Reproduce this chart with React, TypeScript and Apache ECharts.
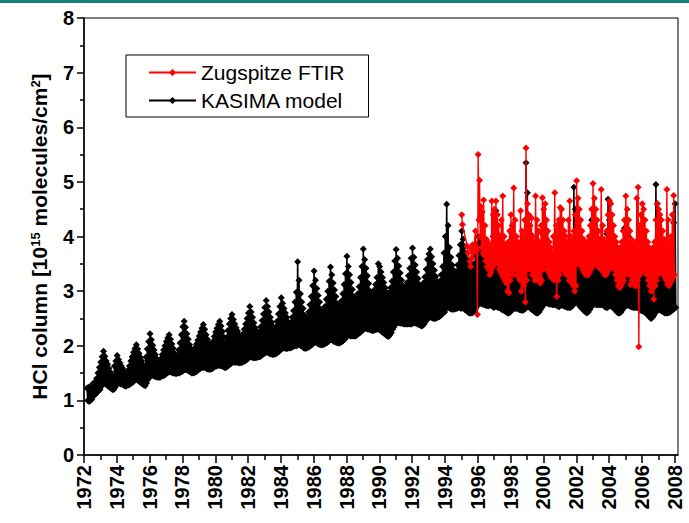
import React, { useEffect, useRef } from "react";
import * as echarts from "echarts";

const majorYears = [1972, 1974, 1976, 1978, 1980, 1982, 1984, 1986, 1988, 1990, 1992, 1994, 1996, 1998, 2000, 2002, 2004, 2006, 2008];
const minorYears = [1973, 1975, 1977, 1979, 1981, 1983, 1985, 1987, 1989, 1991, 1993, 1995, 1997, 1999, 2001, 2003, 2005, 2007];

// KASIMA model: monthly upper / lower values, one row per year from 1972
const kasimaStartYear = 1972;
const kasimaHigh: (number | null)[][] = [
  [null, null, 1.22, 1.24, 1.22, 1.26, 1.3, 1.32, 1.34, 1.4, 1.5, 1.6],
  [1.7, 1.8, 1.9, 1.81, 1.72, 1.66, 1.59, 1.52, 1.46, 1.44, 1.63, 1.72],
  [1.82, 1.75, 1.69, 1.63, 1.585, 1.53, 1.47, 1.5, 1.55, 1.63, 1.72, 1.8],
  [1.88, 1.95, 2.02, 1.94, 1.86, 1.79, 1.72, 1.65, 1.6, 1.79, 1.94, 2.08],
  [2.22, 2.11, 2.01, 1.92, 1.84, 1.76, 1.66, 1.7, 1.76, 1.84, 1.92, 2.0],
  [2.08, 2.14, 2.2, 2.12, 2.03, 1.95, 1.86, 1.75, 1.82, 1.92, 2.05, 2.2],
  [2.35, 2.45, 2.34, 2.22, 2.12, 2.02, 1.94, 1.88, 1.92, 1.97, 2.03, 2.1],
  [2.18, 2.25, 2.32, 2.39, 2.3, 2.2, 2.12, 2.04, 1.95, 2.0, 2.08, 2.17],
  [2.25, 2.32, 2.39, 2.45, 2.36, 2.26, 2.16, 2.05, 2.15, 2.28, 2.4, 2.5],
  [2.57, 2.48, 2.4, 2.33, 2.27, 2.2, 2.12, 2.16, 2.22, 2.3, 2.4, 2.5],
  [2.6, 2.72, 2.62, 2.52, 2.42, 2.33, 2.26, 2.2, 2.26, 2.35, 2.46, 2.58],
  [2.7, 2.83, 2.72, 2.62, 2.52, 2.43, 2.35, 2.28, 2.35, 2.45, 2.58, 2.72],
  [2.88, 2.78, 2.68, 2.6, 2.52, 2.44, 2.35, 2.42, 2.52, 2.64, 2.8, 2.98],
  [3.54, 3.2, 2.95, 2.8, 2.68, 2.56, 2.45, 2.52, 2.62, 2.75, 2.9, 3.1],
  [3.37, 3.2, 3.05, 2.92, 2.8, 2.67, 2.55, 2.62, 2.72, 2.85, 3.0, 3.18],
  [3.44, 3.3, 3.15, 3.02, 2.9, 2.77, 2.65, 2.72, 2.82, 2.95, 3.12, 3.32],
  [3.64, 3.45, 3.3, 3.16, 3.03, 2.9, 2.78, 2.85, 2.95, 3.08, 3.25, 3.45],
  [3.77, 3.58, 3.42, 3.28, 3.14, 3.0, 2.88, 2.94, 3.02, 3.12, 3.25, 3.5],
  [3.45, 3.35, 3.25, 3.16, 3.06, 2.98, 2.9, 2.97, 3.06, 3.18, 3.35, 3.55],
  [3.76, 3.6, 3.46, 3.33, 3.2, 3.1, 3.02, 3.08, 3.16, 3.28, 3.42, 3.6],
  [3.79, 3.62, 3.48, 3.35, 3.23, 3.12, 3.04, 3.08, 3.15, 3.26, 3.4, 3.58],
  [3.68, 3.77, 3.63, 3.5, 3.38, 3.27, 3.18, 3.12, 3.18, 3.3, 3.45, 3.7],
  [4.0, 4.59, 4.2, 3.8, 3.62, 3.48, 3.38, 3.3, 3.36, 3.48, 3.65, 3.85],
  [4.1, 3.95, 3.82, 3.7, 3.58, 3.46, 3.36, 3.3, 3.38, 3.5, 3.65, 3.85],
  [4.0, 3.9, 3.8, 3.68, 3.57, 3.47, 3.38, 3.34, 3.42, 3.55, 3.72, 4.0],
  [4.2, 4.47, 4.05, 3.85, 3.7, 3.58, 3.47, 3.4, 3.4, 3.5, 3.65, 3.9],
  [4.1, 4.2, 3.95, 3.8, 3.65, 3.55, 3.46, 3.4, 3.45, 3.55, 3.8, 5.35],
  [4.8, 4.35, 4.05, 3.85, 3.7, 3.58, 3.47, 3.4, 3.45, 3.55, 3.75, 4.05],
  [4.2, 4.1, 3.95, 3.8, 3.66, 3.55, 3.46, 3.42, 3.48, 3.6, 3.8, 4.05],
  [4.25, 4.12, 3.98, 3.82, 3.68, 3.56, 3.46, 3.44, 3.52, 3.75, 4.9, 4.5],
  [4.3, 4.15, 3.98, 3.82, 3.68, 3.56, 3.46, 3.42, 3.5, 3.65, 3.9, 4.3],
  [4.15, 4.0, 3.85, 3.72, 3.6, 3.5, 3.44, 3.46, 3.55, 3.7, 4.05, 4.68],
  [4.3, 4.1, 3.95, 3.8, 3.66, 3.54, 3.45, 3.42, 3.48, 3.6, 3.82, 4.15],
  [4.3, 4.15, 4.0, 3.84, 3.7, 3.58, 3.48, 3.45, 3.5, 3.62, 3.82, 4.05],
  [4.0, 3.9, 3.78, 3.65, 3.54, 3.45, 3.38, 3.4, 3.48, 3.65, 4.95, 4.6],
  [4.3, 4.12, 3.96, 3.8, 3.66, 3.54, 3.45, 3.42, 3.48, 3.6, 3.85, 4.25],
  [4.6, null, null, null, null, null, null, null, null, null, null, null],
];
const kasimaLow: (number | null)[][] = [
  [null, null, 1.0, 0.98, 1.0, 1.02, 1.08, 1.1, 1.12, 1.15, 1.18, 1.2],
  [1.26, 1.3, 1.32, 1.3, 1.28, 1.26, 1.24, 1.22, 1.2, 1.2, 1.24, 1.28],
  [1.32, 1.32, 1.3, 1.3, 1.28, 1.27, 1.26, 1.28, 1.28, 1.3, 1.32, 1.33],
  [1.36, 1.38, 1.38, 1.36, 1.34, 1.32, 1.3, 1.28, 1.27, 1.32, 1.38, 1.42],
  [1.45, 1.46, 1.45, 1.44, 1.43, 1.43, 1.42, 1.43, 1.44, 1.45, 1.46, 1.48],
  [1.5, 1.52, 1.52, 1.52, 1.5, 1.5, 1.49, 1.49, 1.5, 1.5, 1.52, 1.53],
  [1.55, 1.56, 1.56, 1.55, 1.54, 1.52, 1.5, 1.5, 1.51, 1.52, 1.54, 1.56],
  [1.58, 1.6, 1.6, 1.6, 1.6, 1.58, 1.57, 1.57, 1.57, 1.58, 1.6, 1.62],
  [1.63, 1.64, 1.64, 1.64, 1.63, 1.62, 1.6, 1.6, 1.62, 1.64, 1.66, 1.68],
  [1.7, 1.7, 1.7, 1.7, 1.69, 1.69, 1.69, 1.7, 1.71, 1.72, 1.74, 1.76],
  [1.8, 1.8, 1.79, 1.78, 1.78, 1.78, 1.79, 1.8, 1.8, 1.82, 1.84, 1.86],
  [1.87, 1.88, 1.87, 1.86, 1.85, 1.84, 1.84, 1.85, 1.86, 1.88, 1.9, 1.92],
  [1.95, 1.96, 1.96, 1.95, 1.95, 1.96, 1.96, 1.97, 1.98, 2.0, 2.0, 2.0],
  [2.05, 2.02, 2.0, 1.98, 1.96, 1.95, 1.96, 1.97, 1.98, 2.0, 2.02, 2.05],
  [2.08, 2.06, 2.04, 2.03, 2.02, 2.02, 2.02, 2.03, 2.04, 2.06, 2.08, 2.1],
  [2.12, 2.1, 2.08, 2.07, 2.06, 2.05, 2.05, 2.06, 2.08, 2.1, 2.12, 2.15],
  [2.2, 2.2, 2.18, 2.18, 2.18, 2.18, 2.18, 2.2, 2.22, 2.24, 2.26, 2.28],
  [2.32, 2.32, 2.31, 2.3, 2.3, 2.29, 2.28, 2.28, 2.29, 2.3, 2.3, 2.3],
  [2.28, 2.26, 2.24, 2.22, 2.2, 2.18, 2.17, 2.2, 2.24, 2.3, 2.35, 2.4],
  [2.42, 2.42, 2.42, 2.41, 2.41, 2.4, 2.4, 2.4, 2.4, 2.4, 2.4, 2.4],
  [2.42, 2.42, 2.41, 2.4, 2.39, 2.38, 2.36, 2.37, 2.4, 2.44, 2.48, 2.5],
  [2.52, 2.52, 2.51, 2.5, 2.5, 2.51, 2.52, 2.53, 2.55, 2.58, 2.6, 2.62],
  [2.7, 2.7, 2.7, 2.68, 2.67, 2.67, 2.67, 2.68, 2.68, 2.7, 2.7, 2.68],
  [2.7, 2.68, 2.66, 2.64, 2.62, 2.6, 2.6, 2.6, 2.62, 2.66, 2.7, 2.74],
  [2.78, 2.78, 2.77, 2.76, 2.75, 2.74, 2.73, 2.73, 2.74, 2.74, 2.72, 2.7],
  [2.72, 2.72, 2.7, 2.7, 2.68, 2.66, 2.65, 2.64, 2.62, 2.6, 2.6, 2.62],
  [2.66, 2.68, 2.68, 2.68, 2.68, 2.67, 2.66, 2.65, 2.65, 2.66, 2.68, 2.7],
  [2.72, 2.7, 2.68, 2.66, 2.64, 2.62, 2.6, 2.6, 2.62, 2.66, 2.7, 2.74],
  [2.78, 2.78, 2.78, 2.77, 2.76, 2.76, 2.75, 2.75, 2.75, 2.74, 2.72, 2.72],
  [2.74, 2.74, 2.73, 2.72, 2.71, 2.7, 2.7, 2.7, 2.72, 2.75, 2.78, 2.8],
  [2.8, 2.76, 2.72, 2.7, 2.67, 2.64, 2.62, 2.6, 2.62, 2.66, 2.7, 2.74],
  [2.76, 2.76, 2.75, 2.75, 2.75, 2.75, 2.75, 2.74, 2.72, 2.7, 2.7, 2.72],
  [2.74, 2.72, 2.7, 2.68, 2.65, 2.62, 2.6, 2.6, 2.62, 2.66, 2.7, 2.72],
  [2.74, 2.74, 2.73, 2.72, 2.71, 2.7, 2.7, 2.7, 2.7, 2.68, 2.66, 2.64],
  [2.64, 2.62, 2.6, 2.58, 2.55, 2.52, 2.5, 2.52, 2.56, 2.6, 2.64, 2.66],
  [2.66, 2.65, 2.63, 2.62, 2.6, 2.6, 2.6, 2.61, 2.62, 2.64, 2.66, 2.68],
  [2.7, null, null, null, null, null, null, null, null, null, null, null],
];

// Zugspitze FTIR: monthly upper / lower values, one row per year from 1995
const ftirStartYear = 1995;
const ftirHigh: (number | null)[][] = [
  [4.4, null, null, null, 3.82, null, 3.55, 3.77, 3.85, null, 4.1, 3.75],
  [5.5, 5.03, 4.55, 4.45, 4.67, 4.2, 3.95, 3.9, 3.85, 3.8, 4.65, 4.4],
  [4.5, 4.65, 4.4, 4.2, 4.0, 4.3, 4.74, 4.0, 3.85, 3.8, 3.9, 4.1],
  [4.4, 4.2, 4.89, 4.3, 4.0, 3.9, 3.85, 4.47, 4.1, 4.0, 4.3, 5.62],
  [4.6, 4.4, 4.2, 4.34, 4.0, 3.9, 4.74, 4.3, 4.1, 3.9, 4.2, 4.71],
  [4.5, 4.6, 4.3, 4.1, 3.9, 3.8, 3.7, 4.0, 4.8, 4.2, 4.1, 4.3],
  [4.53, 4.5, 4.3, 4.1, 4.0, 3.9, 4.3, 4.65, 4.0, 3.9, 4.1, 4.4],
  [5.02, 4.7, 4.5, 4.3, 4.1, 3.95, 3.9, 3.85, 3.9, 4.0, 4.2, 4.5],
  [4.97, 4.7, 4.5, 4.3, 4.1, 3.95, 4.86, 4.2, 3.95, 3.9, 4.1, 4.4],
  [4.65, 4.6, 4.4, 4.2, 4.0, 3.9, 3.8, 3.75, 3.8, 3.9, 4.1, 4.3],
  [4.74, 4.5, 4.3, 4.1, 3.95, 3.85, 3.8, 3.9, 4.7, 4.9, 4.2, 4.4],
  [4.6, 4.5, 4.3, 4.1, 3.9, 3.8, 3.7, 3.75, 3.8, 3.9, 4.3, 4.6],
  [4.5, 4.4, 4.3, 4.1, 3.95, 3.85, 4.86, 4.3, 3.9, 4.0, 4.4, 4.75],
];
const ftirLow: (number | null)[][] = [
  [4.22, null, null, null, 3.7, null, 3.45, 3.6, 3.7, null, 3.8, 2.57],
  [4.3, 4.0, 3.8, 3.7, 3.65, 3.55, 3.45, 3.4, 3.3, 3.35, 3.43, 3.5],
  [3.5, 3.6, 3.5, 3.4, 3.35, 3.3, 3.25, 3.2, 3.15, 3.0, 2.97, 3.2],
  [3.4, 3.3, 3.5, 3.4, 3.3, 3.25, 3.2, 3.0, 3.18, 3.1, 2.8, 3.2],
  [3.4, 3.5, 3.4, 3.3, 3.3, 3.2, 3.25, 3.2, 3.2, 3.15, 3.2, 3.4],
  [3.5, 3.5, 3.4, 3.35, 3.3, 3.25, 3.3, 3.2, 3.3, 2.9, 3.2, 3.3],
  [3.4, 3.5, 3.4, 3.35, 3.3, 3.3, 3.2, 3.2, 3.15, 3.1, 3.0, 3.1],
  [3.5, 3.6, 3.5, 3.45, 3.4, 3.35, 3.3, 3.3, 3.3, 3.35, 3.4, 3.45],
  [3.5, 3.55, 3.5, 3.45, 3.43, 3.4, 3.4, 3.35, 3.3, 3.3, 3.35, 3.4],
  [3.45, 3.5, 3.45, 3.4, 3.3, 3.2, 3.1, 3.06, 3.1, 3.15, 3.2, 3.3],
  [3.4, 3.35, 3.3, 3.12, 3.2, 3.15, 3.1, 3.1, 3.2, 1.98, 3.3, 3.35],
  [3.4, 3.4, 3.35, 3.3, 3.2, 3.1, 3.0, 3.05, 2.85, 3.1, 3.2, 3.3],
  [3.35, 3.4, 3.35, 3.3, 3.25, 3.2, 3.12, 3.1, 3.15, 3.2, 3.25, 3.3],
];

function buildSeries(start: number, hi: (number | null)[][], lo: (number | null)[][]) {
  const out: [number, number][] = [];
  hi.forEach((row, i) => {
    row.forEach((h, m) => {
      const yr = start + i;
      if (h != null) out.push([yr + (m + 0.25) / 12, h]);
      const l = lo[i][m];
      if (l != null) out.push([yr + (m + 0.75) / 12, l]);
    });
  });
  return out;
}

const FONT = "'Liberation Sans', Arial, Helvetica, sans-serif";

export default function App() {
  const ref = useRef<HTMLDivElement>(null);
  useEffect(() => {
    if (!ref.current) return;
    const chart = echarts.init(ref.current, undefined, { renderer: "svg" });
    const kasima = buildSeries(kasimaStartYear, kasimaHigh, kasimaLow);
    const ftir = buildSeries(ftirStartYear, ftirHigh, ftirLow);
    const axisLineStyle = { color: "#000", width: 1.5 };
    const tickStyle = { color: "#000", width: 1.5 };
    chart.setOption({
      animation: false,
      backgroundColor: "#fff",
      graphic: [
        { type: "rect", left: 0, top: 0, shape: { width: 689, height: 3 }, style: { fill: "#17807f" } },
      ],
      grid: { left: 84, top: 18, right: 11, bottom: 68, show: true, borderColor: "#000", borderWidth: 1, backgroundColor: "transparent" },
      legend: {
        data: ["Zugspitze FTIR", "KASIMA model"],
        left: 126,
        top: 55,
        orient: "vertical",
        itemWidth: 47,
        itemHeight: 9,
        itemGap: 7,
        padding: [7, 24, 6, 22],
        borderColor: "#000",
        borderWidth: 1,
        backgroundColor: "#fff",
        textStyle: { fontSize: 21, fontFamily: FONT, color: "#000" },
        selectedMode: false,
      },
      xAxis: [
        {
          type: "value",
          min: 1972,
          max: 2008.2,
          position: "bottom",
          axisLine: { show: true, onZero: false, lineStyle: axisLineStyle },
          axisTick: { show: true, customValues: majorYears, length: 8, lineStyle: tickStyle },
          axisLabel: {
            customValues: majorYears,
            rotate: 90,
            margin: 10,
            fontSize: 20,
            fontWeight: "bold",
            fontFamily: FONT,
            color: "#000",
            formatter: (v: number) => String(Math.round(v)),
          },
          splitLine: { show: false },
        },
        {
          type: "value",
          min: 1972,
          max: 2008.2,
          position: "bottom",
          axisLine: { show: false, onZero: false },
          axisTick: { show: true, customValues: minorYears, length: 5, lineStyle: tickStyle },
          axisLabel: { show: false },
          splitLine: { show: false },
        },
      ],
      yAxis: {
        type: "value",
        min: 0,
        max: 8,
        interval: 1,
        axisLine: { show: true, onZero: false, lineStyle: axisLineStyle },
        axisTick: { show: true, length: 7, lineStyle: tickStyle },
        minorTick: { show: true, splitNumber: 2, length: 4, lineStyle: tickStyle },
        minorSplitLine: { show: false },
        splitLine: { show: false },
        axisLabel: { margin: 10, fontSize: 20, fontWeight: "bold", fontFamily: FONT, color: "#000" },
        name: "{b|HCl column [10}{s|15}{b| molecules/cm}{s|2}{b|]}",
        nameLocation: "middle",
        nameRotate: 90,
        nameGap: 34,
        nameTextStyle: {
          fontSize: 21,
          fontWeight: "bold",
          fontFamily: FONT,
          color: "#000",
          rich: {
            b: { fontSize: 21, fontWeight: "bold", fontFamily: FONT, color: "#000" },
            s: { fontSize: 13, fontWeight: "bold", fontFamily: FONT, color: "#000", verticalAlign: "top" },
          },
        },
      },
      series: [
        {
          name: "KASIMA model",
          type: "line",
          xAxisIndex: 0,
          data: kasima,
          color: "#000",
          symbol: "diamond",
          symbolSize: 7,
          lineStyle: { color: "#000", width: 1.6 },
          itemStyle: { color: "#000" },
          silent: true,
          emphasis: { disabled: true },
          z: 2,
        },
        {
          name: "Zugspitze FTIR",
          type: "line",
          xAxisIndex: 0,
          data: ftir,
          color: "#ff0000",
          symbol: "diamond",
          symbolSize: 7,
          lineStyle: { color: "#ff0000", width: 1.4 },
          itemStyle: { color: "#ff0000" },
          silent: true,
          emphasis: { disabled: true },
          z: 3,
        },
      ],
    });
    return () => chart.dispose();
  }, []);
  return <div ref={ref} style={{ position: "absolute", left: 0, top: 0, width: 689, height: 523 }} />;
}
